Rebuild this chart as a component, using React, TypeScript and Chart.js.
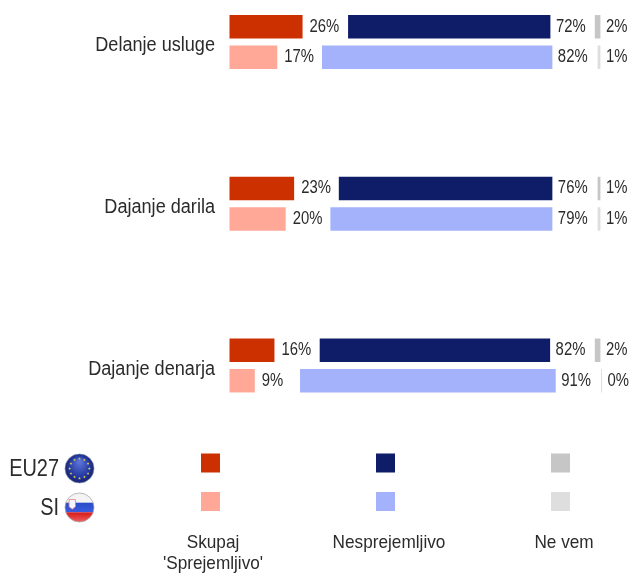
import React, { useEffect, useRef } from "react";
import { Chart, registerables } from "chart.js";

Chart.register(...registerables);

const categories = ["Delanje usluge", "Dajanje darila", "Dajanje denarja"];
const euAccept = [26, 23, 16];
const siAccept = [17, 20, 9];
const euReject = [72, 76, 82];
const siReject = [82, 79, 91];
const euDontKnow = [2, 1, 2];
const siDontKnow = [1, 1, 0];
// right-hand ends of the floating bars (axis units)
const euRejectEnd = [114.2, 114.9, 114.1];
const siRejectEnd = [114.9, 114.9, 116.1];
const euDontKnowEnd = [132, 132, 132];
const siDontKnowEnd = [132, 132, 132.2];

const legendLabels = [["Skupaj", "'Sprejemljivo'"], ["Nesprejemljivo"], ["Ne vem"]];
const rowLabels = ["EU27", "SI"];
const euColors = ["#CC3000", "#0F1C68", "#C6C6C6"];
const siColors = ["#FFA897", "#A3B2FA", "#DEDEDE"];

const FONT = "'Liberation Sans', Arial, sans-serif";
const TEXT = "#2b2b2b";

const span = (values: number[], ends: number[]) =>
  values.map((v, i) => [ends[i] - v, ends[i]] as [number, number]);
const fromZero = (values: number[]) => values.map((v) => [0, v] as [number, number]);

function squeezedText(ctx: CanvasRenderingContext2D, s: string, x: number, y: number, align: CanvasTextAlign, sx = 0.9) {
  ctx.save();
  ctx.translate(x, y);
  ctx.scale(sx, 1);
  ctx.textAlign = align;
  ctx.textBaseline = "middle";
  ctx.fillText(s, 0, 0);
  ctx.restore();
}

function star(ctx: CanvasRenderingContext2D, x: number, y: number, r: number) {
  ctx.beginPath();
  for (let i = 0; i < 10; i++) {
    const a = -Math.PI / 2 + (i * Math.PI) / 5;
    const q = i % 2 ? r * 0.42 : r;
    ctx.lineTo(x + q * Math.cos(a), y + q * Math.sin(a));
  }
  ctx.closePath();
  ctx.fill();
}

function euFlag(ctx: CanvasRenderingContext2D, cx: number, cy: number, r: number) {
  ctx.save();
  const g = ctx.createRadialGradient(cx, cy - r * 0.5, 1, cx, cy, r);
  g.addColorStop(0, "#5a74d8");
  g.addColorStop(0.7, "#2438a0");
  g.addColorStop(1, "#16226e");
  ctx.fillStyle = g;
  ctx.beginPath();
  ctx.arc(cx, cy, r, 0, Math.PI * 2);
  ctx.fill();
  ctx.fillStyle = "#e6d24a";
  for (let i = 0; i < 12; i++) {
    const a = (i * Math.PI) / 6;
    star(ctx, cx + r * 0.68 * Math.cos(a), cy + r * 0.68 * Math.sin(a), 1.5);
  }
  ctx.strokeStyle = "#8a93b8";
  ctx.lineWidth = 0.7;
  ctx.beginPath();
  ctx.arc(cx, cy, r, 0, Math.PI * 2);
  ctx.stroke();
  ctx.restore();
}

function siFlag(ctx: CanvasRenderingContext2D, cx: number, cy: number, r: number) {
  ctx.save();
  ctx.beginPath();
  ctx.arc(cx, cy, r, 0, Math.PI * 2);
  ctx.clip();
  ctx.fillStyle = "#f4f4f4";
  ctx.fillRect(cx - r, cy - r, 2 * r, (2 * r) / 3);
  const b = ctx.createLinearGradient(0, cy - r / 3, 0, cy + r / 3);
  b.addColorStop(0, "#2a4cc8");
  b.addColorStop(1, "#3a5ce0");
  ctx.fillStyle = b;
  ctx.fillRect(cx - r, cy - r / 3, 2 * r, (2 * r) / 3);
  const g = ctx.createLinearGradient(0, cy + r / 3, 0, cy + r);
  g.addColorStop(0, "#d81818");
  g.addColorStop(1, "#f06060");
  ctx.fillStyle = g;
  ctx.fillRect(cx - r, cy + r / 3, 2 * r, (2 * r) / 3);
  ctx.fillStyle = "#f6f6ff";
  ctx.strokeStyle = "#e08080";
  ctx.lineWidth = 0.8;
  ctx.beginPath();
  ctx.moveTo(cx - r * 0.72, cy - r * 0.55);
  ctx.lineTo(cx - r * 0.28, cy - r * 0.55);
  ctx.lineTo(cx - r * 0.28, cy - r * 0.05);
  ctx.lineTo(cx - r * 0.5, cy + r * 0.12);
  ctx.lineTo(cx - r * 0.72, cy - r * 0.05);
  ctx.closePath();
  ctx.fill();
  ctx.stroke();
  ctx.restore();
  ctx.save();
  ctx.strokeStyle = "#a8a8a8";
  ctx.lineWidth = 0.8;
  ctx.beginPath();
  ctx.arc(cx, cy, r, 0, Math.PI * 2);
  ctx.stroke();
  ctx.restore();
}

const overlay = {
  id: "overlay",
  afterDatasetsDraw(chart: any) {
    const ctx: CanvasRenderingContext2D = chart.ctx;
    ctx.save();
    ctx.fillStyle = TEXT;

    ctx.font = `20px ${FONT}`;
    categories.forEach((name, i) => {
      squeezedText(ctx, name, 215, chart.scales.y.getPixelForTick(i) + 3.5, "right", 0.905);
    });

    ctx.font = `17.5px ${FONT}`;
    chart.data.datasets.forEach((ds: any, d: number) => {
      const meta = chart.getDatasetMeta(d);
      meta.data.forEach((bar: any, i: number) => {
        const gap = d % 3 === 0 ? 7 : 5.5;
        squeezedText(ctx, `${ds.shown[i]}%`, bar.x + gap, bar.y, "left", 0.85);
      });
    });

    const colX = [210.5, 385.5, 560.5];
    const rowY = [463, 501.5];
    const palette = [euColors, siColors];
    rowY.forEach((y, r) => {
      colX.forEach((x, c) => {
        ctx.fillStyle = palette[r][c];
        ctx.fillRect(x - 9.5, y - 9.5, 19, 19);
      });
    });

    const textX = [213, 389, 564];
    ctx.fillStyle = TEXT;
    ctx.font = `19px ${FONT}`;
    legendLabels.forEach((lines, c) => {
      lines.forEach((line, l) => {
        squeezedText(ctx, line, textX[c], 543 + l * 21, "center", 0.905);
      });
    });

    ctx.font = `24px ${FONT}`;
    rowLabels.forEach((label, r) => {
      squeezedText(ctx, label, 59, [469, 508][r], "right", 0.83);
    });
    euFlag(ctx, 79.5, 468.5, 14.5);
    siFlag(ctx, 79.5, 507.5, 14.5);
    ctx.restore();
  },
};

export default function App() {
  const ref = useRef<HTMLCanvasElement>(null);
  useEffect(() => {
    if (!ref.current) return;
    const mk = (
      label: string,
      stack: string,
      color: string,
      data: [number, number][],
      shown: number[]
    ) => ({
      label,
      stack,
      data,
      shown,
      backgroundColor: color,
      borderWidth: 0,
      clip: false as const,
      minBarLength: 1,
      categoryPercentage: 0.3765,
      barPercentage: 0.77,
    });
    const chart = new Chart(ref.current, {
      type: "bar",
      plugins: [overlay],
      data: {
        labels: categories,
        datasets: [
          mk("EU27 Skupaj 'Sprejemljivo'", "EU27", euColors[0], fromZero(euAccept), euAccept),
          mk("EU27 Nesprejemljivo", "EU27", euColors[1], span(euReject, euRejectEnd), euReject),
          mk("EU27 Ne vem", "EU27", euColors[2], span(euDontKnow, euDontKnowEnd), euDontKnow),
          mk("SI Skupaj 'Sprejemljivo'", "SI", siColors[0], fromZero(siAccept), siAccept),
          mk("SI Nesprejemljivo", "SI", siColors[1], span(siReject, siRejectEnd), siReject),
          mk("SI Ne vem", "SI", siColors[2], span(siDontKnow, siDontKnowEnd), siDontKnow),
        ] as any,
      },
      options: {
        indexAxis: "y",
        animation: false,
        responsive: false,
        layout: { padding: { top: 42, bottom: 209.5, left: 0, right: 8.1 } },
        plugins: { legend: { display: false }, tooltip: { enabled: false } },
        scales: {
          x: { display: false, min: 0, max: 140, stacked: false },
          y: {
            stacked: true,
            offset: false,
            afterFit: (s: any) => {
              s.width = 229.5;
            },
            grid: { display: false, drawTicks: false },
            border: { display: false },
            ticks: { display: false, autoSkip: false },
          },
        },
      } as any,
    });
    return () => chart.destroy();
  }, []);
  return (
    <div style={{ position: "absolute", left: 0, top: 0, width: 631, height: 575 }}>
      <canvas ref={ref} width={631} height={575} style={{ display: "block" }} />
    </div>
  );
}
